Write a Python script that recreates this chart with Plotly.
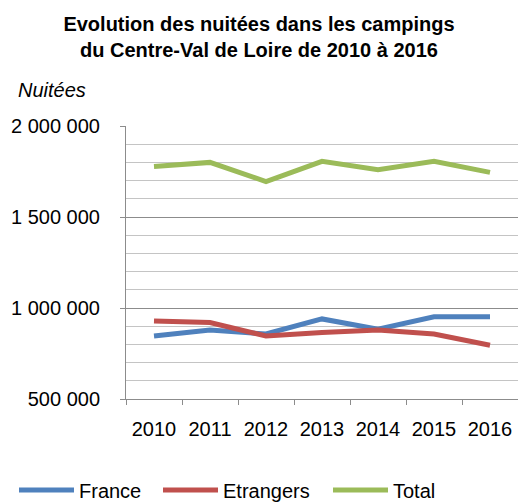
import plotly.graph_objects as go

# data
years = ["2010", "2011", "2012", "2013", "2014", "2015", "2016"]
france = [846000, 879000, 857000, 940000, 883000, 952000, 952000]
etrangers = [929000, 920000, 846000, 866000, 879000, 857000, 795000]
total = [1778000, 1800000, 1695000, 1806000, 1760000, 1806000, 1745000]

series = [("France", france, "#4F81BD"),
          ("Etrangers", etrangers, "#C0504D"),
          ("Total", total, "#9BBB59")]

font = "Liberation Sans, Arial, sans-serif"

# one legend per series so each entry sits where the reference has it
legend_ids = ["legend", "legend2", "legend3"]
legend_x = [14, 158, 328]

fig = go.Figure()
for (name, vals, col), lg in zip(series, legend_ids):
    fig.add_trace(go.Scatter(x=years, y=vals, name=name, mode="lines", legend=lg,
                             line=dict(color=col, width=5)))

legends = {}
for lg, lx in zip(legend_ids, legend_x):
    legends[lg] = dict(orientation="h", xref="container", yref="container",
                       x=lx / 518, y=1 - 490 / 504, xanchor="left", yanchor="middle",
                       font=dict(size=20), itemwidth=55, bgcolor="rgba(0,0,0,0)")

fig.update_layout(
    width=518, height=504,
    margin=dict(l=126, r=0, t=126, b=105, autoexpand=False),
    paper_bgcolor="white", plot_bgcolor="white",
    separators=", ",
    font=dict(family=font, size=20, color="black"),
    title=dict(text="<b>Evolution des nuitées dans les campings<br>du Centre-Val de Loire de 2010 à 2016</b>",
               x=0.5, xanchor="center", xref="container",
               y=1 - 31 / 504, yanchor="middle", yref="container",
               font=dict(family=font, size=20, color="black")),
    showlegend=True,
    **legends,
)

fig.update_xaxes(type="category", range=[-0.5, 6.5], automargin=False,
                 showline=True, linecolor="#8C8C8C", linewidth=1,
                 ticks="outside", ticklen=5, tickcolor="#8C8C8C", tickson="boundaries",
                 showgrid=False, ticklabelstandoff=12)
fig.update_yaxes(range=[500000, 2000000], dtick=500000, tickformat=",d", automargin=False,
                 showline=True, linecolor="#8C8C8C", linewidth=1,
                 ticks="outside", ticklen=5, tickcolor="#8C8C8C",
                 showgrid=True, gridcolor="#8C8C8C", gridwidth=1, zeroline=False,
                 ticklabelstandoff=16,
                 minor=dict(dtick=100000, showgrid=True, gridcolor="#C4C4C4", gridwidth=1, ticks=""))

fig.add_annotation(text="<i>Nuitées</i>", xref="paper", yref="paper",
                   x=(16 - 126) / 392, y=(399 - 90) / 273, xanchor="left", yanchor="middle",
                   showarrow=False, font=dict(size=20))

fig.write_html("out.html", config={"displayModeBar": False},
               post_script="document.body.style.margin='0';")
